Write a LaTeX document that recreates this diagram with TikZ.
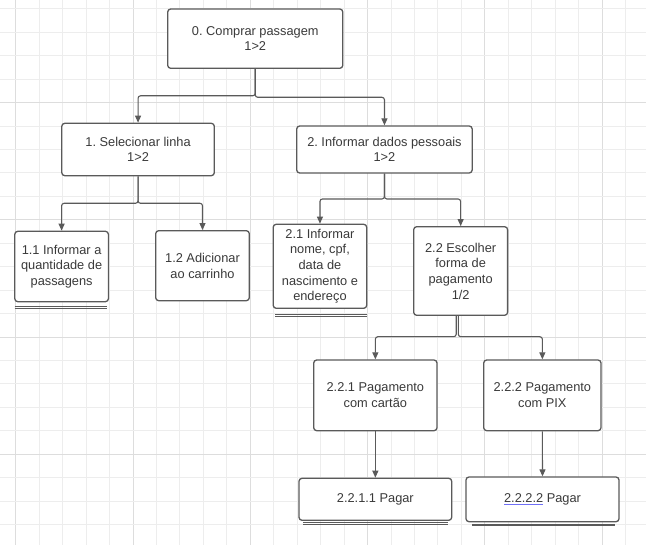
\documentclass[tikz,border=0pt]{standalone}
\usepackage{fontspec}
\setmainfont{Liberation Sans}
\usetikzlibrary{arrows.meta}
\definecolor{gridminor}{HTML}{EDEDED}
\definecolor{gridmajor}{HTML}{DDDDDD}
\definecolor{boxline}{HTML}{5A5A5A}
\definecolor{txt}{HTML}{3A3A3A}
\definecolor{ulblue}{HTML}{6F6FF5}
\newlength\myullen
\newcommand\blueul[1]{\settowidth{\myullen}{#1}\rlap{\textcolor{ulblue}{\rule[-2.6pt]{\myullen}{0.7pt}}}#1}
\begin{document}
\frenchspacing
\begin{tikzpicture}[x=1pt,y=-1pt,
  box/.style={draw=boxline,line width=1.3pt,rounded corners=3pt,fill=white,
    align=center,text=txt,font=\fontsize{12.8}{15.7}\selectfont\frenchspacing,inner sep=0pt},
  conn/.style={draw=boxline,line width=1.1pt,rounded corners=2.5pt,
    -{Triangle[length=7pt,width=6pt]}},
  uline/.style={draw=boxline,line width=0.9pt}]
\useasboundingbox (0,0) rectangle (646,545);
\fill[white] (0,0) rectangle (646,545);
% grid
\foreach \k in {0,...,27}{%
  \pgfmathsetmacro\xx{15.7+23.45*\k}%
  \pgfmathtruncatemacro\mm{mod(\k,5)}%
  \ifnum\mm=0
    \draw[gridmajor,line width=0.8pt] (\xx,0) -- (\xx,545);
  \else
    \draw[gridminor,line width=0.8pt] (\xx,0) -- (\xx,545);
  \fi
}
\foreach \k in {0,...,23}{%
  \pgfmathsetmacro\yy{8.7+23.45*\k}%
  \pgfmathtruncatemacro\mm{mod(\k+1,5)}%
  \ifnum\mm=0
    \draw[gridmajor,line width=0.8pt] (0,\yy) -- (646,\yy);
  \else
    \draw[gridminor,line width=0.8pt] (0,\yy) -- (646,\yy);
  \fi
}
% nodes
\node[box,minimum width=175.1pt,minimum height=59.3pt] (n0) at (255.25,38.65) {0. Comprar passagem\\1>2};
\node[box,minimum width=152.5pt,minimum height=52.4pt] (n1) at (138.05,149.5) {1. Selecionar linha\\1>2};
\node[box,minimum width=175.5pt,minimum height=47pt] (n2) at (384.45,149.5) {2. Informar dados pessoais\\1>2};
\node[box,minimum width=93.6pt,minimum height=70.4pt] (n11) at (61.6,266.5) {1.1 Informar a\\quantidade de\\passagens};
\node[box,minimum width=93.6pt,minimum height=70pt] (n12) at (202.5,265.7) {1.2 Adicionar\\ao carrinho};
\node[box,minimum width=93.5pt,minimum height=84pt] (n21) at (319.95,266.3) {2.1 Informar\\nome, cpf,\\data de\\nascimento e\\endereço};
\node[box,minimum width=93.9pt,minimum height=88.6pt] (n22) at (460.65,271) {2.2 Escolher\\forma de\\pagamento\\1/2};
\node[box,minimum width=123.3pt,minimum height=70.7pt] (n221) at (375.35,395.35) {2.2.1 Pagamento\\com cartão};
\node[box,minimum width=117.3pt,minimum height=70.7pt] (n222) at (542.35,395.35) {2.2.2 Pagamento\\com PIX};
\node[box,minimum width=152.7pt,minimum height=42pt] (n2211) at (375.35,499.3) {2.2.1.1 Pagar};
\node[box,minimum width=153pt,minimum height=44.7pt] (n2222) at (542.5,499.35) {\blueul{2.2.2.2} Pagar};
% fork levels
\coordinate (f0l) at (0,95.8);
\coordinate (f0r) at (0,97.3);
\coordinate (f1) at (0,203.3);
\coordinate (f2) at (0,199);
\coordinate (f3) at (0,336.7);
\coordinate (s22l) at (456.2,0);
\coordinate (s22r) at (458.3,0);
% connectors
\draw[conn] (n0.south) -- (n0.south |- f0l) -| (n1.north);
\draw[conn] (n0.south) -- (n0.south |- f0r) -| (n2.north);
\draw[conn] (n1.south) -- (n1.south |- f1) -| (n11.north);
\draw[conn] (n1.south) -- (n1.south |- f1) -| (n12.north);
\draw[conn] (n2.south) -- (n2.south |- f2) -| (n21.north);
\draw[conn] (n2.south) -- (n2.south |- f2) -| (n22.north);
\draw[conn] (s22l |- n22.south) -- (s22l |- f3) -| (n221.north);
\draw[conn] (s22r |- n22.south) -- (s22r |- f3) -| (n222.north);
\draw[conn] (n221.south) -- (n2211.north);
\draw[conn] (n222.south) -- (n2222.north);
% double underlines
\draw[uline] ([xshift=0.4pt,yshift=-4.3pt]n11.south west) -- ([xshift=-2.5pt,yshift=-4.3pt]n11.south east);
\draw[uline] ([xshift=0.4pt,yshift=-6.1pt]n11.south west) -- ([xshift=-2.5pt,yshift=-6.1pt]n11.south east);
\draw[uline] ([xshift=2.8pt,yshift=-5.7pt]n21.south west) -- ([yshift=-5.7pt]n21.south east);
\draw[uline] ([xshift=2.8pt,yshift=-7.3pt]n21.south west) -- ([yshift=-7.3pt]n21.south east);
\draw[uline] ([xshift=5pt,yshift=-2pt]n2211.south west) -- ([xshift=-4.4pt,yshift=-2pt]n2211.south east);
\draw[uline] ([xshift=5pt,yshift=-3.6pt]n2211.south west) -- ([xshift=-4.4pt,yshift=-3.6pt]n2211.south east);
\draw[uline] ([xshift=6.7pt,yshift=-2pt]n2222.south west) -- ([xshift=-4.7pt,yshift=-2pt]n2222.south east);
\draw[uline] ([xshift=6.7pt,yshift=-3.6pt]n2222.south west) -- ([xshift=-4.7pt,yshift=-3.6pt]n2222.south east);
\end{tikzpicture}
\end{document}
